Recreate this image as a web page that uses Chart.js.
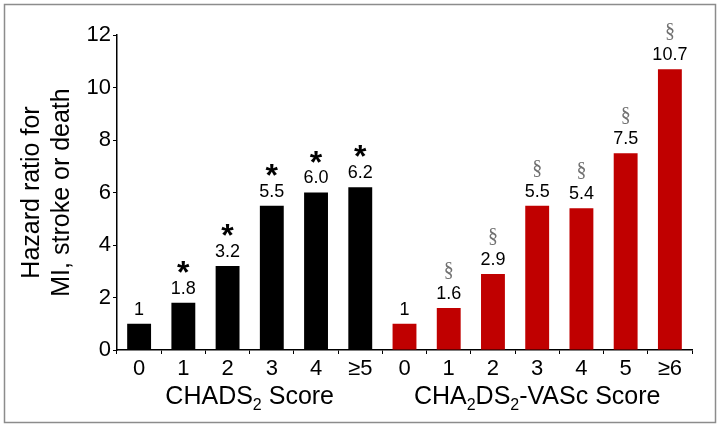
<!DOCTYPE html>
<html>
<head>
<meta charset="utf-8">
<script src="https://cdn.jsdelivr.net/npm/chart.js@4/dist/chart.umd.min.js"></script>
<style>
  html, body { margin: 0; padding: 0; background: #fff; }
  canvas { display: block; }
</style>
</head>
<body>
<canvas id="chart" width="720" height="427"></canvas>
<script>
const chadsLabels = ['0', '1', '2', '3', '4', '≥5'];
const chadsValues = [1, 1.8, 3.2, 5.5, 6.0, 6.2];
const chadsText = ['1', '1.8', '3.2', '5.5', '6.0', '6.2'];
const chadsMarks = ['', '*', '*', '*', '*', '*'];

const vascLabels = ['0', '1', '2', '3', '4', '5', '≥6'];
const vascValues = [1, 1.6, 2.9, 5.5, 5.4, 7.5, 10.7];
const vascText = ['1', '1.6', '2.9', '5.5', '5.4', '7.5', '10.7'];
const vascMarks = ['', '§', '§', '§', '§', '§', '§'];

const yTicks = [0, 2, 4, 6, 8, 10, 12];
const yTitle = ['Hazard ratio for', 'MI, stroke or death'];
const groups = [
    { from: 0, to: 5, parts: [['CHADS', false], ['2', true], [' Score', false]] },
    { from: 6, to: 12, parts: [['CHA', false], ['2', true], ['DS', false], ['2', true], ['-VASc Score', false]] }
];

const FONT = '"Liberation Sans", Arial, sans-serif';

const allLabels = chadsLabels.concat(vascLabels);
const allValues = chadsValues.concat(vascValues);
const allText = chadsText.concat(vascText);
const allMarks = chadsMarks.concat(vascMarks);
const barColors = chadsValues.map(() => '#000000').concat(vascValues.map(() => '#C00000'));

// grey frame round the picture
const framePlugin = {
    id: 'frame',
    beforeDraw(chart) {
        const ctx = chart.ctx;
        ctx.save();
        ctx.fillStyle = '#fff';
        ctx.fillRect(0, 0, chart.width, chart.height);
        ctx.strokeStyle = '#8c8c8c';
        ctx.lineWidth = 1.5;
        ctx.strokeRect(4.5, 4.5, chart.width - 9, chart.height - 9);
        ctx.restore();
    }
};

// value above each bar, with significance mark above that
const valueLabels = {
    id: 'valueLabels',
    afterDatasetsDraw(chart) {
        const ctx = chart.ctx;
        const bars = chart.getDatasetMeta(0).data;
        ctx.save();
        ctx.textAlign = 'center';
        bars.forEach((bar, i) => {
            const yv = bar.y - 14;
            ctx.fillStyle = '#000';
            ctx.font = '18px ' + FONT;
            ctx.textBaseline = 'middle';
            ctx.fillText(allText[i], bar.x, yv);
            const mark = allMarks[i];
            if (mark === '*') {
                ctx.font = 'bold 32px ' + FONT;
                ctx.textBaseline = 'alphabetic';
                ctx.fillText(mark, bar.x, yv - 24 + 18);
            } else if (mark === '§') {
                ctx.fillStyle = '#707070';
                ctx.font = '20px "Liberation Serif", "Times New Roman", serif';
                ctx.textBaseline = 'alphabetic';
                ctx.fillText(mark, bar.x, yv - 25 + 7);
            }
        });
        ctx.restore();
    }
};

// group names under the x axis, with subscripts
const groupTitles = {
    id: 'groupTitles',
    afterDraw(chart) {
        const ctx = chart.ctx;
        const x = chart.scales.x;
        const base = 404;
        ctx.save();
        ctx.fillStyle = '#000';
        ctx.textBaseline = 'alphabetic';
        ctx.textAlign = 'left';
        groups.forEach(g => {
            const mid = (x.getPixelForValue(g.from) + x.getPixelForValue(g.to)) / 2;
            let width = 0;
            g.parts.forEach(p => {
                ctx.font = (p[1] ? '16px ' : '25px ') + FONT;
                width += ctx.measureText(p[0]).width;
            });
            let cx = mid - width / 2;
            g.parts.forEach(p => {
                ctx.font = (p[1] ? '16px ' : '25px ') + FONT;
                ctx.fillText(p[0], cx, p[1] ? base + 6 : base);
                cx += ctx.measureText(p[0]).width;
            });
        });
        ctx.restore();
    }
};

new Chart(document.getElementById('chart').getContext('2d'), {
    type: 'bar',
    data: {
        labels: allLabels,
        datasets: [{
            data: allValues,
            backgroundColor: barColors,
            borderWidth: 0,
            barPercentage: 0.6,
            categoryPercentage: 0.9
        }]
    },
    options: {
        responsive: false,
        animation: false,
        devicePixelRatio: 1,
        layout: { padding: { left: 0, right: 28, top: 35, bottom: 0 } },
        plugins: {
            legend: { display: false },
            tooltip: { enabled: false }
        },
        scales: {
            x: {
                grid: {
                    drawOnChartArea: false,
                    drawTicks: true,
                    tickLength: 4,
                    color: '#000',
                    offset: true
                },
                border: { color: '#000', width: 1.5 },
                ticks: {
                    color: '#000',
                    font: { family: FONT, size: 22 },
                    padding: 2,
                    maxRotation: 0,
                    autoSkip: false
                },
                afterFit(scale) { scale.height = 77; }
            },
            y: {
                min: 0,
                max: 12,
                afterBuildTicks(scale) { scale.ticks = yTicks.map(v => ({ value: v })); },
                grid: {
                    drawOnChartArea: false,
                    drawTicks: true,
                    tickLength: 4,
                    color: '#000'
                },
                border: { color: '#000', width: 1.5 },
                ticks: {
                    color: '#000',
                    font: { family: FONT, size: 22 },
                    padding: 2
                },
                title: {
                    display: true,
                    text: yTitle,
                    color: '#000',
                    font: { family: FONT, size: 25, lineHeight: 1.2 },
                    padding: { top: 17, bottom: 0 }
                },
                afterFit(scale) { scale.width = 117; }
            }
        }
    },
    plugins: [framePlugin, valueLabels, groupTitles]
});
</script>
</body>
</html>
